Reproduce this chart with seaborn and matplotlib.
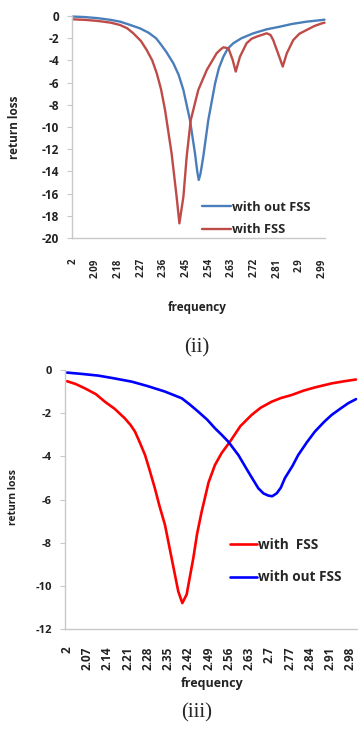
import matplotlib
matplotlib.use("Agg")
import matplotlib.pyplot as plt
import seaborn as sns
import pandas as pd

# ---- panel (ii) data: frequency (GHz) vs return loss (dB)
top_freq_nofss = [2.00, 2.05, 2.10, 2.15, 2.187, 2.22, 2.266, 2.30, 2.33, 2.346, 2.37, 2.399, 2.42,
                  2.439, 2.465, 2.485, 2.494, 2.50, 2.507, 2.518, 2.538, 2.565, 2.58, 2.598,
                  2.615, 2.637, 2.67, 2.717, 2.77, 2.823, 2.87, 2.929, 2.99, 3.00]
top_rl_nofss = [-0.05, -0.1, -0.2, -0.35, -0.51, -0.75, -1.11, -1.5, -2.0, -2.46, -3.2, -4.26, -5.3,
                -6.67, -9.37, -12.37, -14.0, -14.77, -14.2, -12.67, -9.37, -6.07, -4.7, -3.66,
                -2.95, -2.46, -2.0, -1.56, -1.2, -0.96, -0.72, -0.51, -0.36, -0.33]

top_freq_fss = [2.00, 2.05, 2.10, 2.15, 2.187, 2.215, 2.24, 2.27, 2.293, 2.315, 2.333, 2.35, 2.366,
                2.392, 2.412, 2.423, 2.439, 2.452, 2.468, 2.498, 2.532, 2.571, 2.585, 2.598,
                2.618, 2.635, 2.647, 2.664, 2.69, 2.71, 2.73, 2.77, 2.785, 2.796, 2.82, 2.834,
                2.85, 2.876, 2.90, 2.929, 2.96, 2.99, 3.00]
top_rl_fss = [-0.3, -0.35, -0.45, -0.6, -0.81, -1.1, -1.56, -2.25, -3.06, -4.0, -5.16, -6.6, -8.47,
              -12.37, -16.28, -18.68, -16.28, -12.67, -9.4, -6.67, -4.86, -3.36, -3.05, -2.82,
              -2.91, -3.96, -5.01, -3.66, -2.46, -2.05, -1.86, -1.56, -1.7, -2.16, -3.66, -4.56,
              -3.36, -2.16, -1.6, -1.26, -0.9, -0.66, -0.6]

top_ticks = [2.0, 2.09, 2.18, 2.27, 2.36, 2.45, 2.54, 2.63, 2.72, 2.81, 2.9, 2.99]
top_ticklabels = ["2", "2.09", "2.18", "2.27", "2.36", "2.45", "2.54", "2.63",
                  "2.72", "2.81", "2.9", "2.99"]

# ---- panel (iii) data
bot_freq_fss = [2.00, 2.03, 2.062, 2.10, 2.131, 2.165, 2.20, 2.22, 2.235, 2.25, 2.27, 2.285,
                2.304, 2.32, 2.339, 2.362, 2.385, 2.399, 2.414, 2.437, 2.45, 2.466, 2.49, 2.512,
                2.535, 2.564, 2.60, 2.639, 2.67, 2.708, 2.74, 2.777, 2.82, 2.86, 2.916, 2.96, 3.00]
bot_rl_fss = [-0.52, -0.65, -0.85, -1.12, -1.47, -1.8, -2.24, -2.55, -2.85, -3.3, -3.94, -4.6,
              -5.48, -6.3, -7.18, -8.72, -10.26, -10.8, -10.4, -8.72, -7.6, -6.56, -5.2, -4.4,
              -3.85, -3.32, -2.6, -2.08, -1.75, -1.47, -1.3, -1.16, -0.95, -0.8, -0.62, -0.52, -0.44]

bot_freq_nofss = [2.00, 2.05, 2.108, 2.16, 2.224, 2.28, 2.339, 2.397, 2.425, 2.454, 2.485, 2.512,
                  2.535, 2.558, 2.593, 2.627, 2.662, 2.68, 2.697, 2.71, 2.726, 2.74, 2.754, 2.78,
                  2.80, 2.83, 2.858, 2.89, 2.916, 2.945, 2.973, 3.00]
bot_rl_nofss = [-0.12, -0.18, -0.26, -0.38, -0.54, -0.75, -1.0, -1.31, -1.6, -1.93, -2.3, -2.7,
                -3.0, -3.32, -3.94, -4.71, -5.48, -5.72, -5.82, -5.85, -5.71, -5.45, -5.01, -4.45,
                -3.94, -3.35, -2.85, -2.4, -2.08, -1.8, -1.54, -1.35]

bot_ticks = [2.0, 2.07, 2.14, 2.21, 2.28, 2.35, 2.42, 2.49, 2.56, 2.63, 2.7, 2.77, 2.84, 2.91, 2.98]
bot_ticklabels = ["2", "2.07", "2.14", "2.21", "2.28", "2.35", "2.42", "2.49", "2.56",
                  "2.63", "2.7", "2.77", "2.84", "2.91", "2.98"]

top_df = pd.concat([
    pd.DataFrame({"frequency": top_freq_nofss, "return loss": top_rl_nofss, "case": "with out FSS"}),
    pd.DataFrame({"frequency": top_freq_fss, "return loss": top_rl_fss, "case": "with FSS"}),
])
bot_df = pd.concat([
    pd.DataFrame({"frequency": bot_freq_fss, "return loss": bot_rl_fss, "case": "with  FSS"}),
    pd.DataFrame({"frequency": bot_freq_nofss, "return loss": bot_rl_nofss, "case": "with out FSS"}),
])

sns.set_style("white")
plt.rcParams["font.family"] = ["Open Sans", "DejaVu Sans"]
plt.rcParams["axes.unicode_minus"] = False

fig = plt.figure(figsize=(3.58, 7.29), dpi=100)
ax1 = fig.add_axes([72 / 358, 1 - 238 / 729, 253 / 358, 222 / 729])
ax2 = fig.add_axes([65 / 358, 1 - 629 / 729, 293 / 358, 259 / 729])

sns.lineplot(data=top_df, x="frequency", y="return loss", hue="case",
             palette={"with out FSS": "#4a7ebb", "with FSS": "#be4b48"},
             linewidth=1.7, sort=False, legend=False, ax=ax1)
sns.lineplot(data=bot_df, x="frequency", y="return loss", hue="case",
             palette={"with  FSS": "#ff0000", "with out FSS": "#0000ff"},
             linewidth=1.9, sort=False, legend=False, ax=ax2)
for ln in ax1.get_lines():
    ln.set_clip_on(False)
    ln.set_solid_joinstyle("round")
for ln in ax2.get_lines():
    ln.set_solid_joinstyle("round")

gray = "#c8c8c8"
txt = "#222222"
for ax in (ax1, ax2):
    ax.set_xlabel("")
    ax.set_ylabel("")
    sns.despine(ax=ax)
    ax.spines["left"].set_color(gray)
    ax.spines["bottom"].set_color(gray)
    ax.spines["left"].set_linewidth(1.0)
    ax.spines["bottom"].set_linewidth(1.0)
    ax.tick_params(axis="y", left=True, length=3.5, width=0.8, color=gray, pad=6,
                   labelcolor=txt)
    ax.tick_params(axis="x", bottom=False, labelcolor=txt)

ax1.set_xlim(1.996, 3.002)
ax1.set_ylim(-20, 0)
ax1.set_yticks(range(-20, 1, 2))
ax1.set_yticklabels([str(v) for v in range(-20, 1, 2)], fontweight="bold", fontsize=8.5)
ax1.set_xticks(top_ticks)
ax1.set_xticklabels(top_ticklabels, rotation=90, fontweight="bold", fontsize=7)
ax1.tick_params(axis="x", pad=11)

ax2.set_xlim(1.993, 3.007)
ax2.set_ylim(-12, 0)
ax2.set_yticks(range(-12, 1, 2))
ax2.set_yticklabels([str(v) for v in range(-12, 1, 2)], fontweight="bold", fontsize=8)
ax2.set_xticks(bot_ticks)
ax2.set_xticklabels(bot_ticklabels, rotation=90, fontweight="bold", fontsize=8.5)
ax2.tick_params(axis="x", pad=9)

l1 = ax1.get_lines()
ax1.legend(l1[:2], ["with out FSS", "with FSS"], loc="lower left", bbox_to_anchor=(0.47, -0.045),
           frameon=False, handlelength=2.2, handletextpad=0.1, labelspacing=0.75,
           prop={"weight": "bold", "size": 9.2})
l2 = ax2.get_lines()
ax2.legend(l2[:2], ["with  FSS", "with out FSS"], loc="lower left", bbox_to_anchor=(0.52, 0.125),
           frameon=False, handlelength=2.0, handletextpad=0.1, labelspacing=1.35,
           prop={"weight": "bold", "size": 9.8})

fig.text(197 / 358, 1 - 307 / 729, "frequency", ha="center", va="center",
         fontweight="bold", fontsize=8.5, color=txt)
fig.text(212 / 358, 1 - 684 / 729, "frequency", ha="center", va="center",
         fontweight="bold", fontsize=9, color=txt)
fig.text(15 / 358, 1 - 127 / 729, "return loss", ha="center", va="center", rotation=90,
         fontweight="bold", fontsize=8.5, color=txt)
fig.text(13 / 358, 1 - 497 / 729, "return loss", ha="center", va="center", rotation=90,
         fontweight="bold", fontsize=7.5, color=txt)
fig.text(197 / 358, 1 - 348 / 729, "(ii)", ha="center", va="center",
         family="Liberation Serif", fontsize=15)
fig.text(197 / 358, 1 - 713 / 729, "(iii)", ha="center", va="center",
         family="Liberation Serif", fontsize=15)

fig.savefig("out.png", dpi=100)
